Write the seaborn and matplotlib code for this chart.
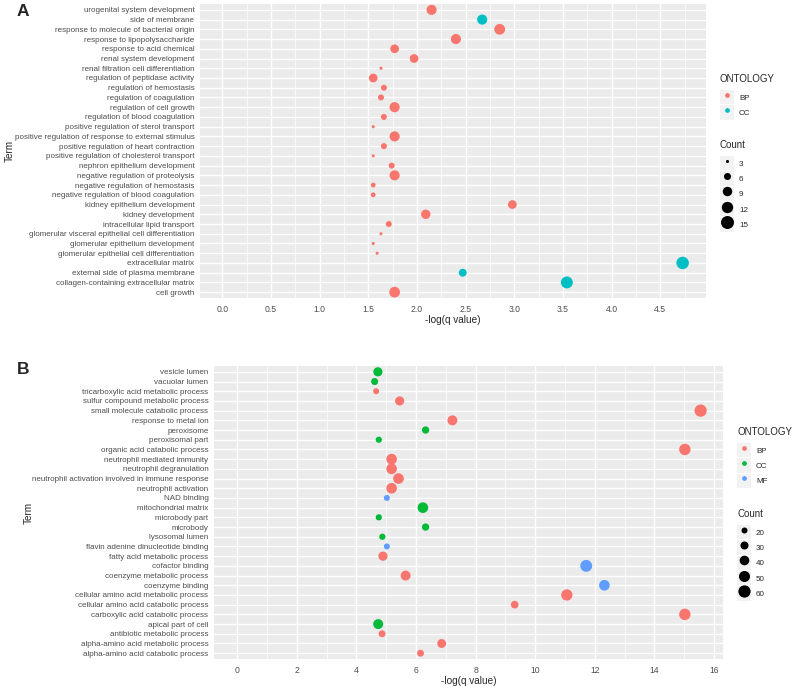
import matplotlib.pyplot as plt
import pandas as pd
import seaborn as sb
from matplotlib.legend_handler import HandlerTuple
from matplotlib.lines import Line2D
from matplotlib.patches import Rectangle
from matplotlib.ticker import MultipleLocator

# Panel A, listed top to bottom
a_terms = [
    "urogenital system development", "side of membrane",
    "response to molecule of bacterial origin", "response to lipopolysaccharide",
    "response to acid chemical", "renal system development",
    "renal filtration cell differentiation", "regulation of peptidase activity",
    "regulation of hemostasis", "regulation of coagulation",
    "regulation of cell growth", "regulation of blood coagulation",
    "positive regulation of sterol transport",
    "positive regulation of response to external stimulus",
    "positive regulation of heart contraction",
    "positive regulation of cholesterol transport",
    "nephron epithelium development", "negative regulation of proteolysis",
    "negative regulation of hemostasis", "negative regulation of blood coagulation",
    "kidney epithelium development", "kidney development",
    "intracellular lipid transport",
    "glomerular visceral epithelial cell differentiation",
    "glomerular epithelium development",
    "glomerular epithelial cell differentiation", "extracellular matrix",
    "external side of plasma membrane",
    "collagen-containing extracellular matrix", "cell growth",
]
a_qval = [2.15, 2.67, 2.85, 2.40, 1.77, 1.97, 1.63, 1.55, 1.66, 1.63,
          1.77, 1.66, 1.55, 1.77, 1.66, 1.55, 1.74, 1.77, 1.55, 1.55,
          2.98, 2.09, 1.71, 1.63, 1.55, 1.59, 4.73, 2.47, 3.54, 1.77]
a_count = [10, 10, 11, 10, 8, 8, 3, 8, 5, 5,
           10, 5, 3, 10, 5, 3, 5, 10, 4, 4,
           8, 9, 5, 3, 3, 3, 14, 7, 13, 11]
a_ont = ["BP", "CC", "BP", "BP", "BP", "BP", "BP", "BP", "BP", "BP",
         "BP", "BP", "BP", "BP", "BP", "BP", "BP", "BP", "BP", "BP",
         "BP", "BP", "BP", "BP", "BP", "BP", "CC", "CC", "CC", "BP"]

# Panel B, listed top to bottom
b_terms = [
    "vesicle lumen", "vacuolar lumen", "tricarboxylic acid metabolic process",
    "sulfur compound metabolic process", "small molecule catabolic process",
    "response to metal ion", "peroxisome", "peroxisomal part",
    "organic acid catabolic process", "neutrophil mediated immunity",
    "neutrophil degranulation",
    "neutrophil activation involved in immune response",
    "neutrophil activation", "NAD binding", "mitochondrial matrix",
    "microbody part", "microbody", "lysosomal lumen",
    "flavin adenine dinucleotide binding", "fatty acid metabolic process",
    "cofactor binding", "coenzyme metabolic process", "coenzyme binding",
    "cellular amino acid metabolic process",
    "cellular amino acid catabolic process",
    "carboxylic acid catabolic process", "apical part of cell",
    "antibiotic metabolic process", "alpha-amino acid metabolic process",
    "alpha-amino acid catabolic process",
]
b_qval = [4.72, 4.61, 4.66, 5.45, 15.55, 7.22, 6.32, 4.75, 15.02, 5.18,
          5.18, 5.41, 5.18, 5.02, 6.23, 4.75, 6.32, 4.87, 5.02, 4.89,
          11.71, 5.65, 12.32, 11.06, 9.31, 15.02, 4.73, 4.86, 6.86, 6.15]
b_count = [37, 25, 11, 37, 63, 42, 26, 21, 53, 47,
           47, 47, 47, 15, 47, 21, 26, 21, 15, 37,
           57, 42, 47, 52, 28, 53, 42, 24, 35, 24]
b_ont = ["CC", "CC", "BP", "BP", "BP", "BP", "CC", "CC", "BP", "BP",
         "BP", "BP", "BP", "MF", "CC", "CC", "CC", "CC", "MF", "BP",
         "MF", "BP", "MF", "BP", "BP", "BP", "CC", "BP", "BP", "BP"]

pal_a = {"BP": "#F8766D", "CC": "#00BFC4"}
pal_b = {"BP": "#F8766D", "CC": "#00BA38", "MF": "#619CFF"}

sb.set_style("darkgrid", {"axes.facecolor": "#EBEBEB", "grid.color": "white"})
plt.rcParams["font.family"] = ["Liberation Sans", "DejaVu Sans"]

fig = plt.figure(figsize=(8, 6.89), dpi=100)
W, H = 800, 689


def px_axes(left, top, right, bottom):
    return fig.add_axes([left / W, 1 - bottom / H, (right - left) / W, (bottom - top) / H])


def panel(ax, terms, qval, count, ont, pal, norm, sizes, xlim, major, minor, fmt):
    df = pd.DataFrame({"Term": terms, "q": qval, "Count": count, "ONTOLOGY": ont})
    df = df.iloc[::-1]  # first term ends up at the top
    sb.scatterplot(data=df, x="q", y="Term", hue="ONTOLOGY", size="Count",
                   palette=pal, hue_order=list(pal), size_norm=norm, sizes=sizes,
                   linewidth=0, alpha=1, legend=False, ax=ax, zorder=3)
    ax.set_xlim(*xlim)
    ax.set_ylim(-0.6, len(terms) - 0.4)
    ax.xaxis.set_major_locator(MultipleLocator(major))
    ax.xaxis.set_minor_locator(MultipleLocator(minor))
    ax.xaxis.set_major_formatter(fmt)
    ax.grid(which="major", color="white", lw=1.0)
    ax.grid(which="minor", axis="x", color="white", lw=0.5)
    for s in ax.spines.values():
        s.set_visible(False)
    ax.tick_params(axis="both", which="major", length=2.5, width=0.6, color="#333333",
                   labelsize=5.8, labelcolor="#4D4D4D", pad=1.5)
    ax.tick_params(axis="x", which="major", labelsize=6.2, pad=2.5)
    ax.tick_params(axis="x", which="minor", length=0)
    ax.set_xlabel("-log(q value)", fontsize=7.2, labelpad=1)
    ax.set_ylabel("Term", fontsize=7.2)


def key(marker):
    bg = Rectangle((0, 0), 1, 1, facecolor="#F2F2F2", edgecolor="none")
    return (bg, marker)


def legends(pal, count_breaks, norm, sizes, x, y_ont, y_cnt):
    smin, smax = sizes
    lo, hi = norm
    h1 = [key(Line2D([], [], marker="o", ls="", color=c, markersize=2.4))
          for c in pal.values()]
    h2 = [key(Line2D([], [], marker="o", ls="", color="black", markeredgewidth=0,
                     markersize=(smin + (v - lo) / (hi - lo) * (smax - smin)) ** 0.5))
          for v in count_breaks]
    kw = dict(loc="upper left", frameon=False, borderpad=0, fontsize=5.8,
              title_fontsize=7.0, handlelength=1.75, handleheight=2.4,
              handletextpad=0.6, labelspacing=0.1, alignment="left",
              borderaxespad=0, handler_map={tuple: HandlerTuple(ndivide=1, pad=0)})
    l1 = fig.legend(h1, list(pal), title="ONTOLOGY",
                    bbox_to_anchor=(x / W, 1 - y_ont / H), **kw)
    l2 = fig.legend(h2, [str(v) for v in count_breaks], title="Count",
                    bbox_to_anchor=(x / W, 1 - y_cnt / H), **kw)
    for leg in (l1, l2):
        leg._legend_box.sep = 4.2  # gap between title and keys
    return l1, l2


norm_a, sizes_a = (3, 15), (5.0, 87.6)
norm_b, sizes_b = (20, 60), (18.7, 78)

ax_a = px_axes(200, 4, 706, 298)
panel(ax_a, a_terms, a_qval, a_count, a_ont, pal_a, norm_a, sizes_a,
      (-0.23, 4.97), 0.5, 0.25, "{x:.1f}")
ax_a.yaxis.set_label_coords(-0.366, 0.5)
legends(pal_a, [3, 6, 9, 12, 15], norm_a, sizes_a, 720, 74, 140)

ax_b = px_axes(214, 366, 723, 659)
panel(ax_b, b_terms, b_qval, b_count, b_ont, pal_b, norm_b, sizes_b,
      (-0.78, 16.3), 2, 1, "{x:.0f}")
ax_b.yaxis.set_label_coords(-0.354, 0.5)
legends(pal_b, [20, 30, 40, 50, 60], norm_b, sizes_b, 737, 427, 509)

fig.text(17 / W, 1 - 11 / H, "A", fontsize=12.5, fontweight="bold", va="center", ha="left")
fig.text(17 / W, 1 - 369 / H, "B", fontsize=12.5, fontweight="bold", va="center", ha="left")

fig.savefig("out.png", dpi=100, facecolor="white")
